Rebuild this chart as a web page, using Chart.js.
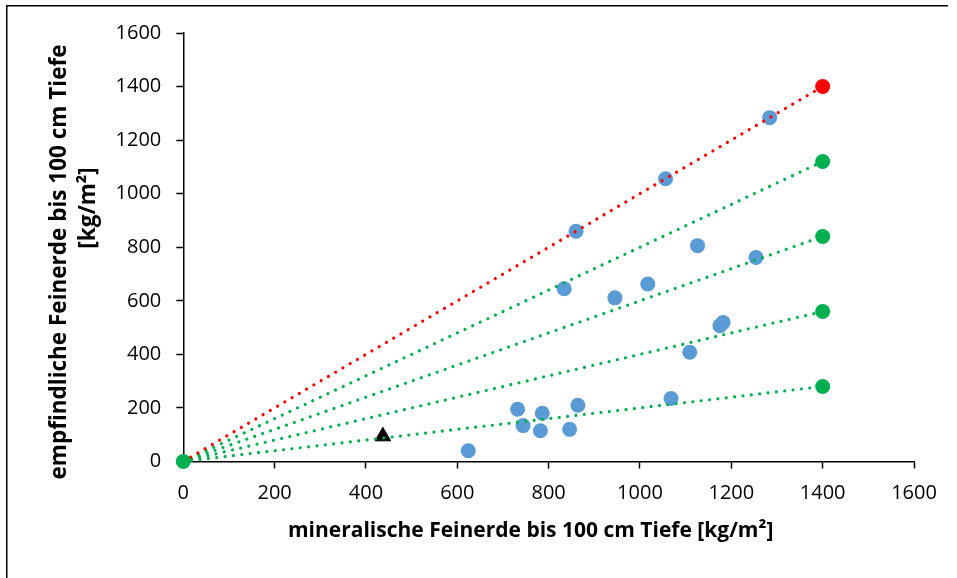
<!DOCTYPE html>
<html>
<head>
<meta charset="utf-8">
<script src="https://cdn.jsdelivr.net/npm/chart.js@4.4.0/dist/chart.umd.min.js"></script>
<style>
  html, body { margin: 0; padding: 0; background: #fff; }
  #wrap { width: 957px; height: 578px; position: relative; }
</style>
</head>
<body>
<div id="wrap"><canvas id="chart" width="957" height="578"></canvas></div>
<script>
// Feinerde-Vorräte der Profile (mineralisch vs. empfindlich), kg/m²
const mineralX = [624, 732, 744, 786, 782, 846, 864, 1068, 860, 834, 945, 1017, 1056, 1126, 1109, 1175, 1182, 1254, 1284];
const empfindlichY = [40, 195, 134, 180, 115, 120, 210, 235, 860, 645, 611, 663, 1056, 806, 408, 507, 519, 762, 1284];

// Einzelner Referenzstandort (Dreieck)
const referenzX = [437];
const referenzY = [94];

// Anteilslinien 100 %, 80 %, 60 %, 40 %, 20 % vom Ursprung bis 1400
const lineStartX = 0;
const lineStartY = 0;
const lineEndX = 1400;
const lineEndY = [1400, 1120, 840, 560, 280];
const lineColors = ['#FF0000', '#00B050', '#00B050', '#00B050', '#00B050'];

const axisMin = 0;
const axisMax = 1600;
const axisStep = 200;

const xTitle = 'mineralische Feinerde bis 100 cm Tiefe [kg/m²]';
const yTitleLines = ['empfindliche Feinerde bis 100 cm Tiefe', '[kg/m²]'];

const FONT = '"Open Sans", "DejaVu Sans", sans-serif';
const BLUE = '#5B9BD5';

const ratioSets = lineEndY.map((y, i) => ({
    type: 'scatter',
    data: [{ x: lineStartX, y: lineStartY }, { x: lineEndX, y: y }],
    showLine: true,
    borderColor: lineColors[i],
    backgroundColor: lineColors[i],
    borderWidth: 3.2,
    borderDash: [0.01, 8.4],
    borderCapStyle: 'round',
    pointRadius: [0, 7.5],
    pointBorderWidth: 0,
    clip: false,
    order: 2
}));

// Rahmen und Achsentitel
const decoPlugin = {
    id: 'deco',
    afterDraw(chart) {
        const ctx = chart.ctx;
        const area = chart.chartArea;
        ctx.save();
        ctx.strokeStyle = '#000';
        ctx.lineWidth = 1.5;
        ctx.beginPath();
        ctx.moveTo(948, 5.75);
        ctx.lineTo(6.75, 5.75);
        ctx.lineTo(6.75, 578);
        ctx.stroke();

        ctx.fillStyle = '#000';
        ctx.textAlign = 'center';
        ctx.textBaseline = 'middle';
        ctx.font = 'bold 21px ' + FONT;
        ctx.fillText(xTitle, area.left + (area.right - area.left) / 2 - 18, 531);

        ctx.font = 'bold 22.5px ' + FONT;
        ctx.translate(60, 0);
        ctx.rotate(-Math.PI / 2);
        ctx.fillText(yTitleLines[0], -262, 0);
        ctx.fillText(yTitleLines[1], -208, 29);
        ctx.restore();
    }
};

const plainTick = v => String(v);

new Chart(document.getElementById('chart'), {
    type: 'scatter',
    data: {
        datasets: [
            ...ratioSets,
            {
                data: [{ x: lineStartX, y: lineStartY }],
                backgroundColor: '#00B050',
                pointRadius: 7.5,
                pointBorderWidth: 0,
                clip: false,
                order: 1
            },
            {
                data: referenzX.map((x, i) => ({ x: x, y: referenzY[i] })),
                pointStyle: 'triangle',
                backgroundColor: '#000',
                borderColor: '#000',
                pointRadius: 9,
                pointBorderWidth: 1,
                order: 3
            },
            {
                data: mineralX.map((x, i) => ({ x: x, y: empfindlichY[i] })),
                backgroundColor: BLUE,
                borderColor: BLUE,
                pointRadius: 7.5,
                pointBorderWidth: 0,
                order: 4
            }
        ]
    },
    options: {
        responsive: false,
        devicePixelRatio: 1,
        animation: false,
        layout: { padding: { left: 0, top: 33, right: 43, bottom: 0 } },
        plugins: { legend: { display: false }, tooltip: { enabled: false } },
        scales: {
            x: {
                type: 'linear',
                min: axisMin,
                max: axisMax,
                afterFit(scale) { scale.height = 116.5; },
                ticks: { stepSize: axisStep, padding: 13, color: '#000', callback: plainTick, font: { family: FONT, size: 20 } },
                grid: { drawOnChartArea: false, tickLength: 7, tickColor: '#000', tickWidth: 1.5 },
                border: { color: '#000', width: 1.5 }
            },
            y: {
                type: 'linear',
                min: axisMin,
                max: axisMax,
                afterFit(scale) { scale.width = 183.3; },
                ticks: { stepSize: axisStep, padding: 15, color: '#000', callback: plainTick, font: { family: FONT, size: 20 } },
                grid: { drawOnChartArea: false, tickLength: 7, tickColor: '#000', tickWidth: 1.5 },
                border: { color: '#000', width: 1.5 }
            }
        }
    },
    plugins: [decoPlugin]
});
</script>
</body>
</html>
